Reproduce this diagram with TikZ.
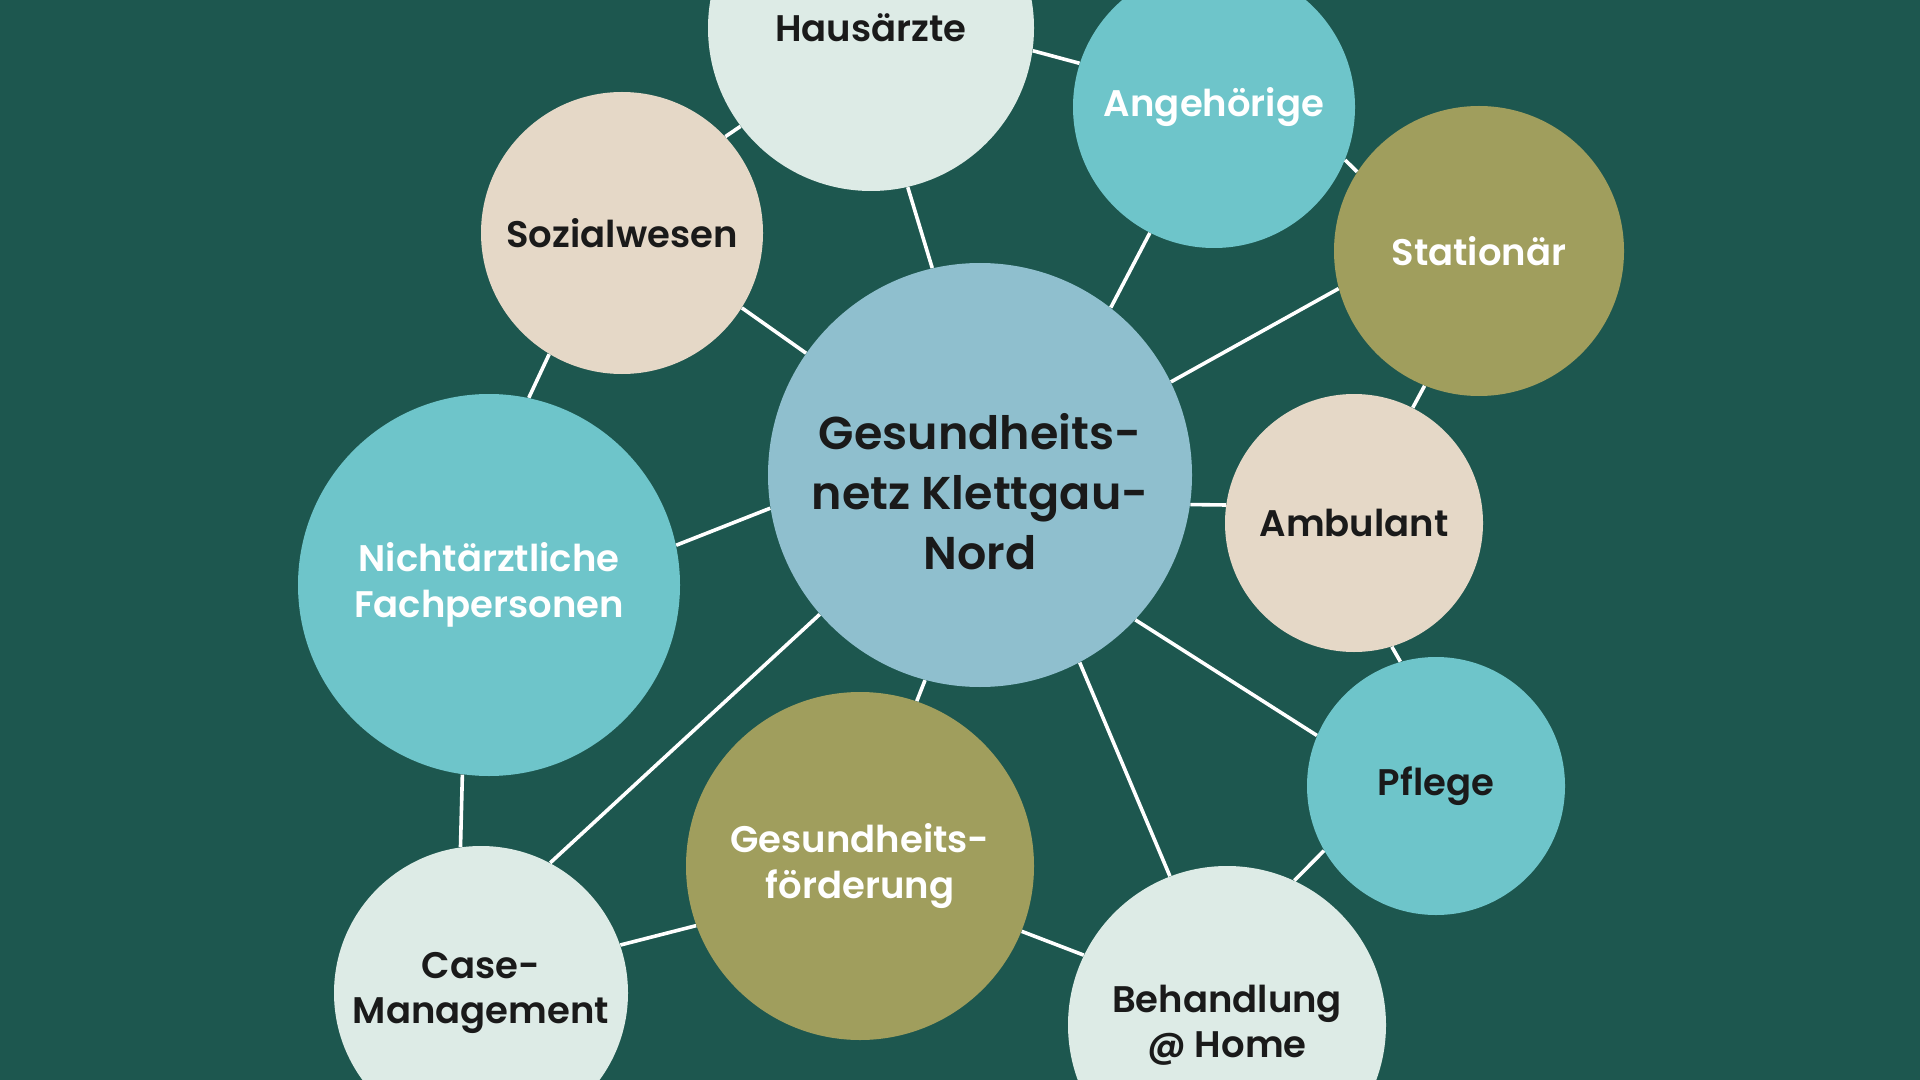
\documentclass[tikz,border=0pt]{standalone}
\usepackage{fontspec}
\IfFontExistsTF{Poppins SemiBold}{\setmainfont{Poppins SemiBold}}{\setmainfont{Poppins}}
\usepackage{tikz}
\definecolor{bg}{HTML}{1D574F}
\definecolor{sky}{HTML}{8FBFCE}
\definecolor{teal}{HTML}{6EC5CA}
\definecolor{sand}{HTML}{E5D8C7}
\definecolor{olive}{HTML}{A09E5D}
\definecolor{mint}{HTML}{DDEBE6}
\definecolor{ink}{HTML}{1A1A1A}
\tikzstyle{vertex}=[circle,inner sep=0pt,align=center,text=ink,font=\fontsize{18.5}{22.7}\selectfont]
\tikzstyle{hub}=[fill=sky]
\tikzstyle{hubtext}=[align=center,text=ink,yshift=-8.5pt,font=\fontsize{23}{30}\selectfont]
\tikzstyle{pale}=[fill=mint]
\tikzstyle{beige}=[fill=sand]
\tikzstyle{aqua}=[fill=teal,text=white]
\tikzstyle{aquadark}=[fill=teal]
\tikzstyle{moss}=[fill=olive,text=white]
\tikzstyle{edge}=[draw,white,line width=1.8pt]

\begin{document}
\begin{tikzpicture}[x=0.5pt,y=-0.5pt]
	\fill[bg] (0,0) rectangle (1920,1080);
	\useasboundingbox (0,0) rectangle (1920,1080);

	% First we draw the circles
	\node[vertex,hub,minimum size=212pt,
		label={[hubtext]center:{Gesundheits-\\netz Klettgau-\\Nord}}] (c) at (980,475) {};
	\foreach \pos/\name/\size/\look/\txt in {
		{(871,28)/h/163/pale/Hausärzte},
		{(1214,107)/a/141/aqua/Angehörige},
		{(1479,251)/s/145/moss/Stationär},
		{(622,233)/w/141/beige/Sozialwesen},
		{(489,585)/n/191/aqua/{Nichtärztliche\\Fachpersonen}},
		{(1354,523)/b/129/beige/Ambulant},
		{(1436,786)/p/129/aquadark/Pflege},
		{(860,866)/g/174/moss/{Gesundheits-\\förderung}},
		{(481,993)/m/147/pale/{Case-\\Management}},
		{(1227,1025)/d/159/pale/{Behandlung\\@ Home}}}
		\node[vertex,\look,minimum size=\size pt] (\name) at \pos {\txt};

	% Connect circles with lines
	\foreach \source/\dest in {c.103/h.283, c.52/a.243, c.26/s.195, c.-8/b.172,
		c.-43/p.157, c.-62/d.111, c.255/g.71, c.221/m.62, c.189/n.12, c.145/w.-32}
		\path[edge] (\source) -- (\dest);

	\foreach \source/\dest in {w.43/h.217, h.-8/a.162, a.-22/s.147, s.248/b.63,
		b.-73/p.106, p.210/d.65, d.154/g.-22, g.200/m.19, m.98/n.262, n.78/w.239}
		\path[edge] (\source) -- (\dest);

\end{tikzpicture}
\end{document}
